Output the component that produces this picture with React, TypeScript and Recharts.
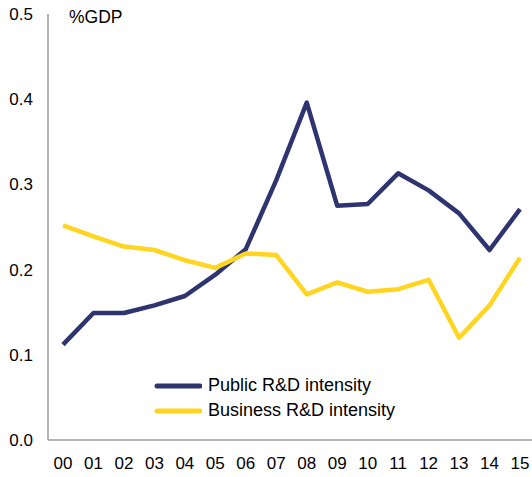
import { LineChart, Line, XAxis, YAxis } from 'recharts';

const years = ['00', '01', '02', '03', '04', '05', '06', '07', '08', '09', '10', '11', '12', '13', '14', '15'];
const publicRD = [0.112, 0.149, 0.149, 0.158, 0.169, 0.194, 0.224, 0.305, 0.396, 0.275, 0.277, 0.313, 0.293, 0.266, 0.223, 0.271];
const businessRD = [0.252, 0.239, 0.227, 0.223, 0.211, 0.202, 0.219, 0.217, 0.171, 0.185, 0.174, 0.177, 0.188, 0.12, 0.158, 0.214];
const yTicks = [0, 0.1, 0.2, 0.3, 0.4, 0.5];

const NAVY = '#2E346F';
const YELLOW = '#FFD520';
const FONT = '"Liberation Sans", Arial, sans-serif';

const data = years.map((y, i) => ({ year: y, pub: publicRD[i], bus: businessRD[i] }));

const legendItems = [
    { label: 'Public R&D intensity', color: NAVY },
    { label: 'Business R&D intensity', color: YELLOW },
];

// drawn as an overlay so it doesn't eat into the plot area
function ChartLegend() {
    return (
        <div style={{ position: 'absolute', left: 154, top: 373, fontFamily: FONT, fontSize: 18, color: '#000' }}>
            {legendItems.map((it) => (
                <div key={it.label} style={{ display: 'flex', alignItems: 'center', height: 25, whiteSpace: 'nowrap' }}>
                    <svg width={48} height={10}>
                        <line x1={3} y1={5} x2={46} y2={5} stroke={it.color} strokeWidth={5} strokeLinecap="round" />
                    </svg>
                    <span style={{ marginLeft: 6 }}>{it.label}</span>
                </div>
            ))}
        </div>
    );
}

export default function App() {
    return (
        <div style={{ position: 'absolute', left: 0, top: 0, width: 532, height: 477, background: '#fff' }}>
            <LineChart width={532} height={477} data={data} margin={{ top: 14, right: 0, left: 0, bottom: 0 }}>
                <XAxis
                    dataKey="year"
                    height={37}
                    padding={{ left: 15, right: 12 }}
                    axisLine={{ stroke: '#9b9b9b', strokeWidth: 1.5 }}
                    tickLine={false}
                    tickSize={0}
                    tickMargin={17}
                    tick={{ fill: '#000', fontSize: 17, fontFamily: FONT }}
                    interval={0}
                />
                <YAxis
                    width={48}
                    domain={[0, 0.5]}
                    ticks={yTicks}
                    tickFormatter={(v: number) => v.toFixed(1)}
                    axisLine={{ stroke: '#9b9b9b', strokeWidth: 1.5 }}
                    tickLine={false}
                    tickSize={0}
                    tickMargin={15}
                    tick={{ fill: '#000', fontSize: 17, fontFamily: FONT }}
                />
                <Line type="linear" dataKey="pub" stroke={NAVY} strokeWidth={4.5} dot={false} isAnimationActive={false} strokeLinejoin="round" />
                <Line type="linear" dataKey="bus" stroke={YELLOW} strokeWidth={4.5} dot={false} isAnimationActive={false} strokeLinejoin="round" />
                <text x={69} y={23} fontSize={17.5} fontFamily={FONT} fill="#000">%GDP</text>
            </LineChart>
            <ChartLegend />
        </div>
    );
}
